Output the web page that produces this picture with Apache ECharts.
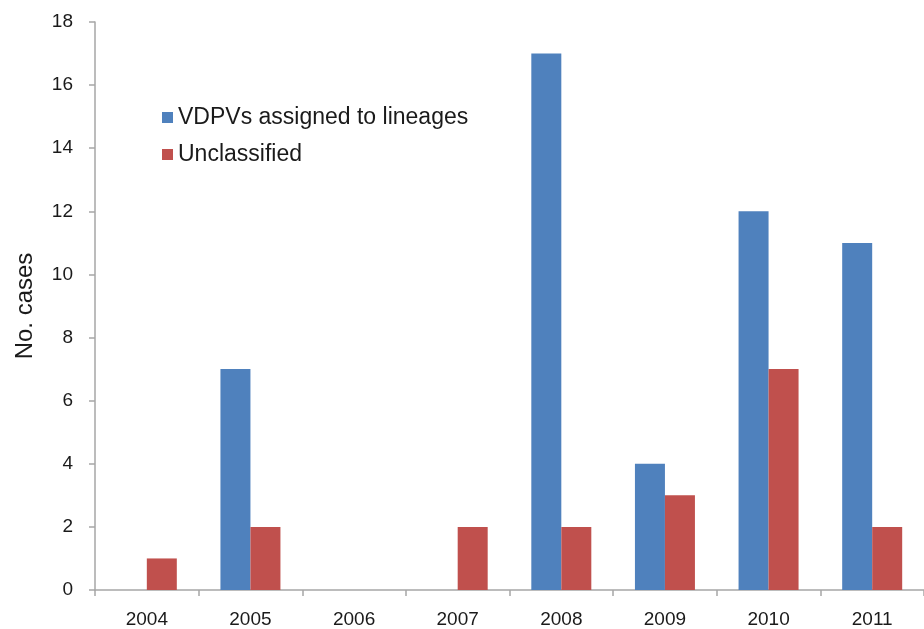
<!DOCTYPE html>
<html><head><meta charset="utf-8">
<script src="https://cdn.jsdelivr.net/npm/echarts@6/dist/echarts.min.js"></script>
<style>html,body{margin:0;padding:0;background:#fff}#c{width:924px;height:629px}</style>
</head><body><div id="c"></div>
<script>
const years = ['2004','2005','2006','2007','2008','2009','2010','2011'];
const assigned = [0, 7, 0, 0, 17, 4, 12, 11];
const unclassified = [1, 2, 0, 2, 2, 3, 7, 2];
const seriesNames = ['VDPVs assigned to lineages', 'Unclassified'];
const yTitle = 'No. cases';

const chart = echarts.init(document.getElementById('c'), null, {renderer:'canvas'});
chart.setOption({
  animation: false,
  backgroundColor: '#fff',
  textStyle: {fontFamily: 'Liberation Sans, Arial, sans-serif'},
  grid: {left: 95, top: 22, width: 832, height: 569, containLabel: false},
  legend: {
    left: 157, top: 101, orient: 'vertical', itemGap: 14,
    itemWidth: 11, itemHeight: 11, icon: 'rect',
    textStyle: {fontSize: 23, color: '#1a1a1a', fontFamily: 'Liberation Sans, Arial, sans-serif'},
    data: seriesNames
  },
  xAxis: {
    type: 'category', data: years,
    axisLine: {lineStyle: {color: '#a6a6a6', width: 1.5}},
    axisTick: {show: true, length: 6, lineStyle: {color: '#a6a6a6', width: 1.5}},
    axisLabel: {fontSize: 19, color: '#1a1a1a', margin: 20}
  },
  yAxis: {
    type: 'value', min: 0, max: 18, interval: 2,
    name: yTitle, nameLocation: 'middle', nameGap: 58,
    nameTextStyle: {fontSize: 24, color: '#1a1a1a'},
    axisLine: {show: true, lineStyle: {color: '#a6a6a6', width: 1.5}},
    axisTick: {show: true, length: 6, lineStyle: {color: '#a6a6a6', width: 1.5}},
    splitLine: {show: false},
    axisLabel: {fontSize: 19, color: '#1a1a1a', margin: 22}
  },
  series: [
    {name: seriesNames[0], type: 'bar', data: assigned, barWidth: 30, barGap: '0%',
     itemStyle: {color: '#4F81BD'}},
    {name: seriesNames[1], type: 'bar', data: unclassified, barWidth: 30,
     itemStyle: {color: '#C0504D'}}
  ]
});
</script></body></html>
